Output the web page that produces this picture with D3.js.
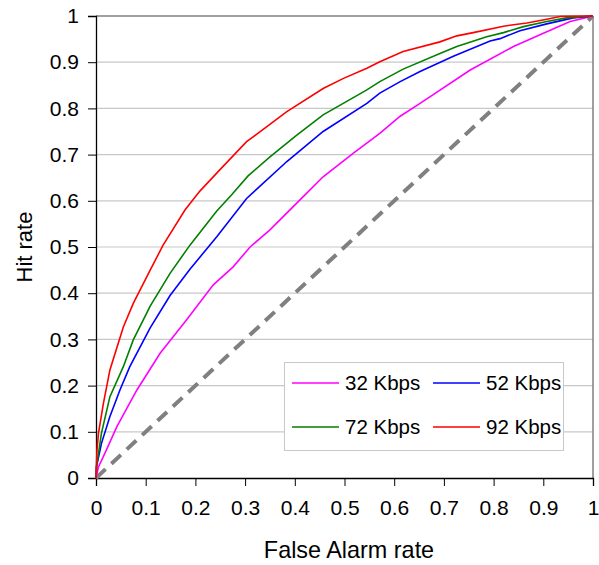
<!DOCTYPE html>
<html><head><meta charset="utf-8">
<script src="https://cdn.jsdelivr.net/npm/d3@7"></script>
<style>body{margin:0;background:#fff}svg text{font-family:"Liberation Sans",Arial,sans-serif;fill:#000}</style>
</head><body><svg id="c" width="599" height="565"></svg>
<script>
const seriesNames = ["32 Kbps","52 Kbps","72 Kbps","92 Kbps"];
const seriesColors = ["#FF00FF","#0000FF","#008000","#FF0000"];
const far32 = [0,0.005,0.021,0.042,0.082,0.129,0.182,0.236,0.276,0.31,0.35,0.417,0.457,0.518,0.571,0.612,0.652,0.753,0.84,0.907,0.954,1];
const hit32 = [0,0.024,0.061,0.111,0.19,0.27,0.342,0.418,0.457,0.5,0.537,0.609,0.652,0.703,0.746,0.783,0.811,0.883,0.934,0.966,0.988,1];
const far52 = [0,0.001,0.011,0.028,0.048,0.068,0.109,0.149,0.189,0.243,0.303,0.384,0.457,0.545,0.571,0.612,0.652,0.719,0.793,0.813,0.853,0.907,0.96,1];
const hit52 = [0,0.024,0.075,0.133,0.19,0.241,0.325,0.395,0.452,0.522,0.605,0.685,0.75,0.811,0.833,0.858,0.88,0.913,0.946,0.951,0.968,0.983,0.996,1];
const far72 = [0,0.001,0.011,0.028,0.055,0.075,0.109,0.149,0.189,0.243,0.273,0.306,0.35,0.404,0.457,0.545,0.571,0.618,0.692,0.726,0.786,0.82,0.86,0.907,0.947,1];
const hit72 = [0,0.024,0.097,0.176,0.241,0.299,0.372,0.443,0.504,0.578,0.613,0.654,0.695,0.742,0.786,0.84,0.858,0.885,0.919,0.934,0.955,0.964,0.977,0.988,0.996,1];
const far92 = [0,0.001,0.002,0.005,0.015,0.028,0.055,0.075,0.109,0.135,0.179,0.209,0.249,0.303,0.384,0.457,0.498,0.545,0.571,0.618,0.692,0.726,0.759,0.82,0.867,0.907,0.934,1];
const hit92 = [0,0.03,0.06,0.097,0.162,0.234,0.327,0.378,0.45,0.504,0.58,0.621,0.667,0.728,0.793,0.843,0.865,0.887,0.901,0.923,0.944,0.957,0.964,0.978,0.985,0.993,0.999,1];
const chanceLine = [0,1];
const tickValues = [0,0.1,0.2,0.3,0.4,0.5,0.6,0.7,0.8,0.9,1];

const fars = [far32,far52,far72,far92];
const hits = [hit32,hit52,hit72,hit92];

const L=96,R=593,T=16,B=478;
const svg = d3.select("#c");
const x = d3.scaleLinear().domain([0,1]).range([L,R]);
const y = d3.scaleLinear().domain([0,1]).range([B,T]);

svg.append("g").selectAll("line").data(tickValues.slice(1,-1)).join("line")
  .attr("x1",L).attr("x2",R).attr("y1",d=>y(d)).attr("y2",d=>y(d))
  .attr("stroke","#c8c8c8").attr("stroke-width",1.2);
svg.append("line").attr("x1",L).attr("x2",R).attr("y1",T).attr("y2",T).attr("stroke","#808080").attr("stroke-width",1.5);
svg.append("line").attr("x1",R).attr("x2",R).attr("y1",T).attr("y2",B).attr("stroke","#808080").attr("stroke-width",1.5);

const fmt = d=> d===0?"0":d===1?"1":d3.format(".1f")(d);
const yAxis = svg.append("g").attr("transform",`translate(${L},0)`)
  .call(d3.axisLeft(y).tickValues(tickValues).tickFormat(fmt).tickSize(8).tickPadding(9));
const xAxis = svg.append("g").attr("transform",`translate(0,${B})`)
  .call(d3.axisBottom(x).tickValues(tickValues).tickFormat(fmt).tickSize(8).tickPadding(14));
[yAxis,xAxis].forEach(a=>{
  a.select(".domain").attr("stroke","#000").attr("stroke-width",1.3);
  a.selectAll(".tick line").attr("stroke","#000").attr("stroke-width",1);
  a.selectAll("text").attr("font-size",21).attr("font-family","Liberation Sans, Arial, sans-serif").attr("fill","#000");
});

svg.append("line").attr("x1",x(chanceLine[0])).attr("y1",y(chanceLine[0]))
  .attr("x2",x(chanceLine[1])).attr("y2",y(chanceLine[1]))
  .attr("stroke","#808080").attr("stroke-width",4).attr("stroke-dasharray","13,8");

const line = d3.line().x(d=>x(d[0])).y(d=>y(d[1]));
fars.forEach((f,i)=>{
  const pts = f.map((v,j)=>[v,hits[i][j]]);
  svg.append("path").attr("d",line(pts)).attr("fill","none")
    .attr("stroke",seriesColors[i]).attr("stroke-width",1.6);
});

const lg = svg.append("g");
lg.append("rect").attr("x",284.5).attr("y",362.5).attr("width",279).attr("height",88)
  .attr("fill","#fff").attr("stroke","#c8c8c8").attr("stroke-width",1);
const pos = [[292,383],[433,383],[292,427],[433,427]];
seriesNames.forEach((n,i)=>{
  const [px,py]=pos[i];
  lg.append("line").attr("x1",px).attr("x2",px+47).attr("y1",py).attr("y2",py)
    .attr("stroke",seriesColors[i]).attr("stroke-width",1.6);
  lg.append("text").attr("x",px+53).attr("y",py+7).attr("font-size",20.5).text(n);
});

svg.append("text").attr("x",349).attr("y",558).attr("text-anchor","middle").attr("font-size",23.4).text("False Alarm rate");
svg.append("text").attr("transform","translate(32,247) rotate(-90)").attr("text-anchor","middle").attr("font-size",22).text("Hit rate");
</script></body></html>
